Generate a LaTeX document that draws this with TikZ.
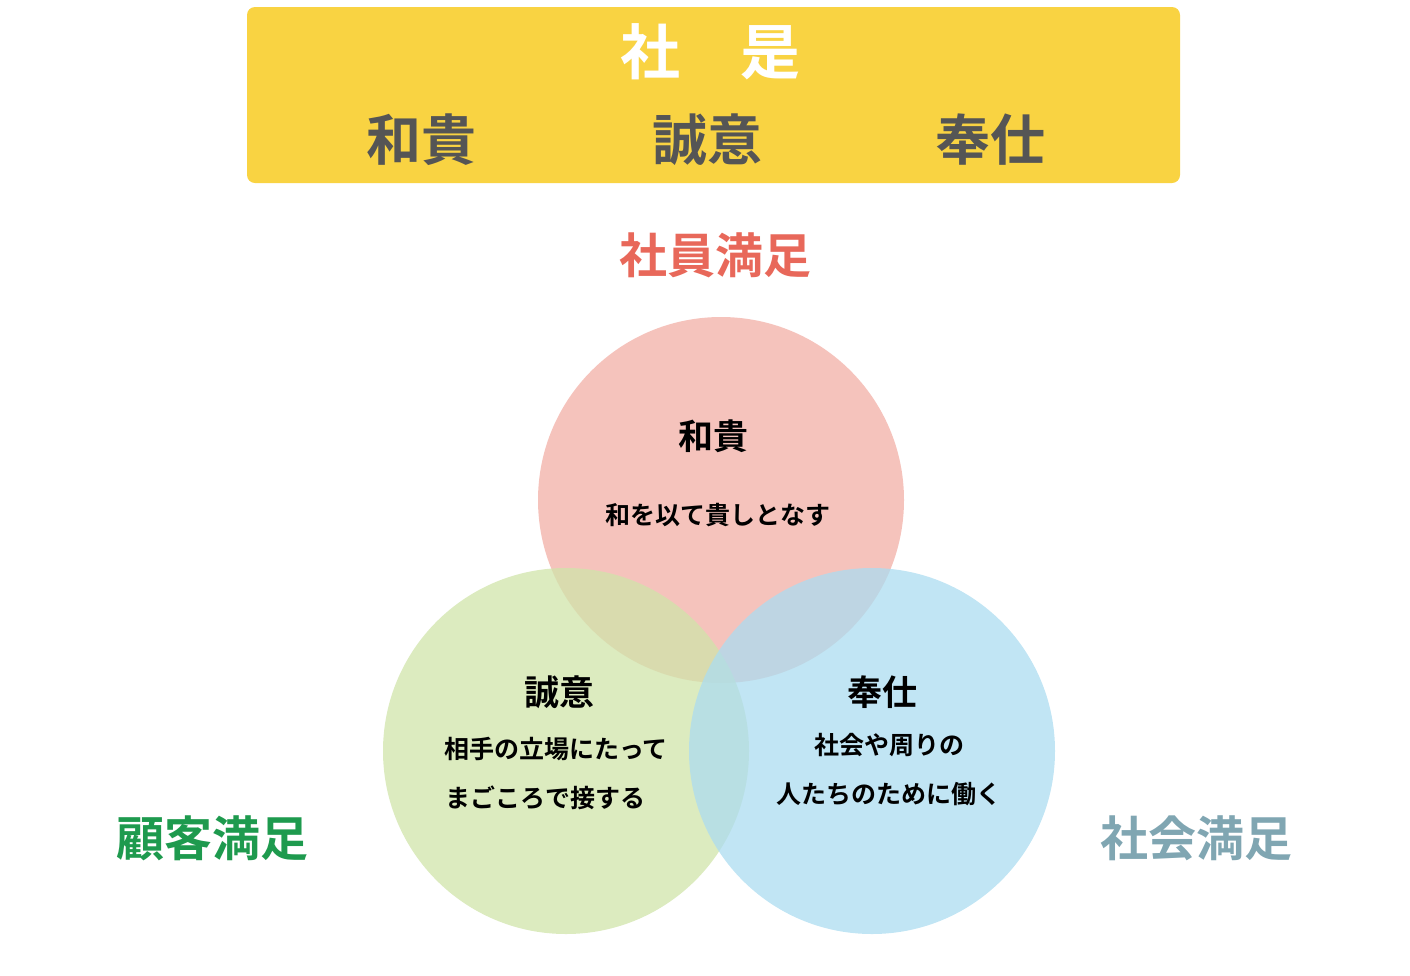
\documentclass[tikz,border=0pt]{standalone}
\usepackage{fontspec}
\setmainfont{Noto Sans CJK JP}[BoldFont={Noto Sans CJK JP Bold}]
\newfontfamily\cjkb{Noto Sans CJK JP Bold}
\definecolor{ylw}{HTML}{F9D342}
\definecolor{pk}{HTML}{F2AFA6}
\definecolor{gr}{HTML}{D0E4AA}
\definecolor{bl}{HTML}{ACDCF0}
\definecolor{redt}{HTML}{E8685A}
\definecolor{grt}{HTML}{1E9A4E}
\definecolor{blt}{HTML}{80A6B2}
\definecolor{dg}{HTML}{555555}
\begin{document}
\begin{tikzpicture}[x=1pt,y=-1pt,
  big/.style={font=\cjkb\fontsize{48}{50}\selectfont},
  head/.style={font=\cjkb\fontsize{55}{58}\selectfont,text=dg},
  ctitle/.style={font=\cjkb\fontsize{35}{38}\selectfont},
  ctext/.style={font=\cjkb\fontsize{25}{28}\selectfont},
  circ/.style={circle,minimum size=366pt,inner sep=0pt,fill opacity=0.75}]
\useasboundingbox (0,0) rectangle (1410,975);
\fill[ylw,rounded corners=8pt] (247,7) rectangle (1180,183);
\node[font=\cjkb\fontsize{60}{62}\selectfont,text=white] (t) at (710,52) {社\hspace{1em}是};
\node[head] (h1) at (421,140) {和貴};
\node[head] (h2) at (707,140) {誠意};
\node[head] (h3) at (990,140) {奉仕};
\node[big,text=redt] (s1) at (715,255) {社員満足};
\node[circ,fill=pk] (c1) at (721,500) {};
\node[circ,fill=gr] (c2) at (566,751) {};
\node[circ,fill=bl] (c3) at (872,751) {};
\node[ctitle] (w1) at (713,436) {和貴};
\node[ctext] (w2) at (718,515) {和を以て貴しとなす};
\node[ctitle] (g1) at (559,692) {誠意};
\node[ctext] (g2) at (556,749) {相手の立場にたって};
\node[ctext] (g3) at (545,798) {まごころで接する};
\node[ctitle] (b1) at (882,692) {奉仕};
\node[ctext] (b2) at (889,745) {社会や周りの};
\node[ctext] (b3) at (889,794) {人たちのために働く};
\node[big,text=grt] (s2) at (212,838) {顧客満足};
\node[big,text=blt] (s3) at (1196,838) {社会満足};
\end{tikzpicture}
\end{document}
